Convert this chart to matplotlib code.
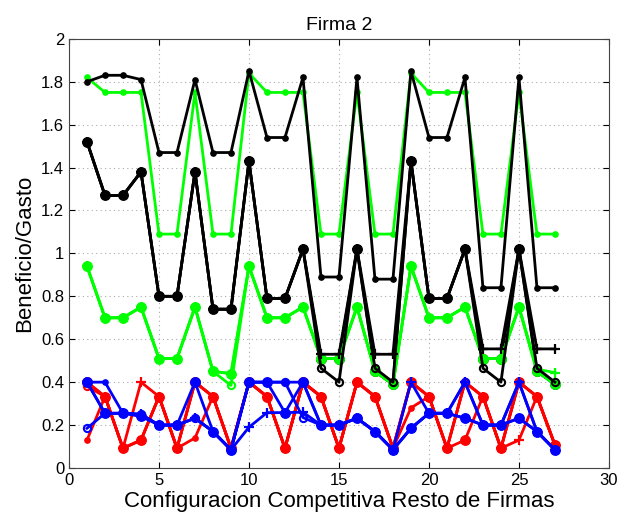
import numpy as np
import matplotlib
matplotlib.use('Agg')
import matplotlib.pyplot as plt

plt.rcParams['font.family'] = ['Liberation Sans', 'DejaVu Sans']

# configuracion 1..27
x = np.arange(1, 28)

# upper group (green / black)
g_top = [1.82, 1.75, 1.75, 1.75, 1.09, 1.09, 1.75, 1.09, 1.09,
         1.84, 1.75, 1.75, 1.75, 1.09, 1.09, 1.75, 1.09, 1.09,
         1.84, 1.75, 1.75, 1.75, 1.09, 1.09, 1.75, 1.09, 1.09]
k_top = [1.80, 1.83, 1.83, 1.81, 1.47, 1.47, 1.81, 1.47, 1.47,
         1.85, 1.54, 1.54, 1.82, 0.89, 0.89, 1.82, 0.88, 0.88,
         1.85, 1.54, 1.54, 1.82, 0.84, 0.84, 1.82, 0.84, 0.84]
g_dot = [0.94, 0.70, 0.70, 0.75, 0.51, 0.51, 0.75, 0.45, 0.44,
         0.94, 0.70, 0.70, 0.75, 0.51, 0.51, 0.75, 0.45, 0.39,
         0.94, 0.70, 0.70, 0.75, 0.51, 0.51, 0.75, 0.45, 0.39]
g_open = [0.94, 0.70, 0.70, 0.75, 0.51, 0.51, 0.75, 0.45, 0.385,
          0.94, 0.70, 0.70, 0.75, 0.51, 0.51, 0.75, 0.45, 0.39,
          0.94, 0.70, 0.70, 0.75, 0.51, 0.51, 0.75, 0.45, 0.39]
g_plus = [0.94, 0.70, 0.70, 0.75, 0.51, 0.51, 0.75, 0.45, 0.44,
          0.94, 0.70, 0.70, 0.75, 0.51, 0.51, 0.75, 0.45, 0.39,
          0.94, 0.70, 0.70, 0.75, 0.51, 0.51, 0.75, 0.46, 0.445]
k_dot = [1.52, 1.27, 1.27, 1.38, 0.80, 0.80, 1.38, 0.74, 0.74,
         1.43, 0.79, 0.79, 1.02, 0.51, 0.51, 1.02, 0.45, 0.39,
         1.43, 0.79, 0.79, 1.02, 0.51, 0.51, 1.02, 0.45, 0.39]
k_plus = [1.52, 1.27, 1.27, 1.38, 0.80, 0.80, 1.38, 0.74, 0.74,
          1.43, 0.79, 0.79, 1.02, 0.53, 0.53, 1.02, 0.53, 0.53,
          1.43, 0.79, 0.79, 1.02, 0.555, 0.555, 1.02, 0.555, 0.555]
k_open = [1.52, 1.27, 1.27, 1.38, 0.80, 0.80, 1.38, 0.74, 0.74,
          1.43, 0.79, 0.79, 1.02, 0.465, 0.40, 1.02, 0.465, 0.40,
          1.43, 0.79, 0.79, 1.02, 0.465, 0.40, 1.02, 0.465, 0.40]

# lower group (red / blue)
r_dot = [0.40, 0.333, 0.092, 0.13, 0.333, 0.092, 0.40, 0.333, 0.092,
         0.40, 0.333, 0.092, 0.40, 0.333, 0.092, 0.40, 0.333, 0.092,
         0.40, 0.333, 0.092, 0.13, 0.333, 0.092, 0.40, 0.333, 0.107]
r_small = [0.13, 0.333, 0.092, 0.13, 0.333, 0.092, 0.14, 0.333, 0.092,
           0.40, 0.333, 0.092, 0.40, 0.333, 0.092, 0.40, 0.333, 0.092,
           0.28, 0.333, 0.092, 0.40, 0.333, 0.092, 0.40, 0.333, 0.107]
r_open = [0.38, 0.333, 0.092, 0.13, 0.333, 0.092, 0.40, 0.333, 0.092,
          0.40, 0.333, 0.092, 0.40, 0.333, 0.092, 0.40, 0.333, 0.092,
          0.40, 0.333, 0.092, 0.40, 0.333, 0.092, 0.40, 0.333, 0.107]
r_plus = [0.40, 0.333, 0.092, 0.40, 0.333, 0.092, 0.40, 0.333, 0.092,
          0.40, 0.333, 0.092, 0.40, 0.333, 0.092, 0.40, 0.333, 0.092,
          0.40, 0.333, 0.092, 0.40, 0.333, 0.092, 0.13, 0.333, 0.107]
b_dot = [0.40, 0.255, 0.255, 0.24, 0.20, 0.20, 0.40, 0.17, 0.085,
         0.40, 0.40, 0.258, 0.40, 0.20, 0.20, 0.232, 0.17, 0.085,
         0.185, 0.255, 0.255, 0.232, 0.20, 0.20, 0.232, 0.17, 0.085]
b_small = [0.40, 0.40, 0.255, 0.25, 0.20, 0.20, 0.232, 0.17, 0.085,
           0.40, 0.40, 0.40, 0.40, 0.20, 0.20, 0.232, 0.17, 0.085,
           0.185, 0.255, 0.255, 0.232, 0.20, 0.20, 0.40, 0.17, 0.085]
b_open = [0.185, 0.255, 0.255, 0.25, 0.20, 0.20, 0.232, 0.17, 0.085,
          0.40, 0.40, 0.40, 0.235, 0.20, 0.20, 0.232, 0.17, 0.085,
          0.185, 0.255, 0.255, 0.40, 0.20, 0.20, 0.232, 0.17, 0.085]
b_plus = [0.40, 0.255, 0.255, 0.25, 0.20, 0.20, 0.232, 0.17, 0.085,
          0.19, 0.258, 0.258, 0.26, 0.20, 0.20, 0.232, 0.17, 0.085,
          0.40, 0.255, 0.255, 0.40, 0.20, 0.20, 0.40, 0.17, 0.085]

G = (0, 1, 0)
LW = 2.0

def dot(ax, y, c):
    ax.plot(x, y, '-o', color=c, lw=LW, ms=6.8, mfc=c, mec=c)

def small(ax, y, c):
    ax.plot(x, y, '-o', color=c, lw=LW, ms=3.8, mfc=c, mec=c)

def opn(ax, y, c):
    ax.plot(x, y, '-o', color=c, lw=LW, ms=5.2, mfc='none', mec=c, mew=1.5)

def plus(ax, y, c):
    ax.plot(x, y, '-+', color=c, lw=LW, ms=6.5, mew=1.6)

fig = plt.figure(figsize=(6.33, 5.14), dpi=100)
ax = fig.add_axes([0.109, 0.0895, 0.853, 0.835])

small(ax, g_top, G)
small(ax, k_top, 'k')
dot(ax, k_dot, 'k')
dot(ax, g_dot, G)
plus(ax, g_plus, G)
opn(ax, g_open, G)
plus(ax, k_plus, 'k')
opn(ax, k_open, 'k')

dot(ax, r_dot, 'r')
small(ax, r_small, 'r')
opn(ax, r_open, 'r')
plus(ax, r_plus, 'r')
dot(ax, b_dot, 'b')
small(ax, b_small, 'b')
opn(ax, b_open, 'b')
plus(ax, b_plus, 'b')

ax.set_xlim(0, 30)
ax.set_ylim(0, 2)
ax.set_xticks(np.arange(0, 31, 5))
ax.set_yticks(np.arange(0, 2.01, 0.2))
ax.set_yticklabels(['0', '0.2', '0.4', '0.6', '0.8', '1', '1.2', '1.4', '1.6', '1.8', '2'])
ax.tick_params(direction='in', labelsize=12, top=True, right=True, length=4)
ax.grid(True, linestyle=(0, (1, 3)), color='#aaaaaa', lw=0.8)
ax.set_axisbelow(True)
for s in ax.spines.values():
    s.set_color('#444444')
ax.set_title('Firma 2', fontsize=14)
ax.set_xlabel('Configuracion Competitiva Resto de Firmas', fontsize=16, labelpad=2)
ax.set_ylabel('Beneficio/Gasto', fontsize=16)

fig.savefig('out.png', dpi=100)
